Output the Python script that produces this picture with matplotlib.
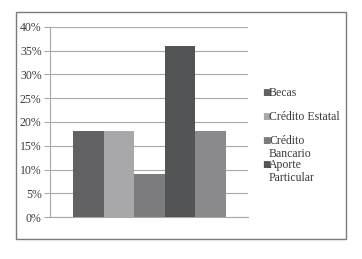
import matplotlib
matplotlib.use("Agg")
import matplotlib.pyplot as plt
from matplotlib.patches import Rectangle

plt.rcParams['font.family'] = ['Liberation Serif', 'DejaVu Serif']

series = ["Becas", "Crédito Estatal", "Crédito\nBancario", "Aporte\nParticular", ""]
values = [18, 18, 9, 36, 18]
colors = ["#626264", "#a8a8aa", "#7c7c7e", "#525456", "#8a8a8c"]
yticks = [0, 5, 10, 15, 20, 25, 30, 35, 40]

fig = plt.figure(figsize=(3.62, 2.59), dpi=100)
fig.patches.append(Rectangle((0.044, 0.077), 0.912, 0.877, transform=fig.transFigure,
                             fill=False, edgecolor="#7a7a7a", linewidth=1.0))

ax = fig.add_axes([0.138, 0.162, 0.547, 0.734])
x = list(range(len(values)))
ax.bar(x, values, width=1.0, color=colors, zorder=3)
ax.set_xlim(-1.25, 5.22)
ax.set_ylim(0, 40)
ax.set_yticks(yticks)
ax.set_yticklabels([f"{t}%" for t in yticks], fontsize=8.5, color="#3a3a3a")
ax.set_xticks([])
ax.yaxis.grid(True, color="#a8a8a8", linewidth=0.8, zorder=0)
for s in ["top", "right"]:
    ax.spines[s].set_visible(False)
ax.spines["left"].set_color("#a8a8a8")
ax.spines["bottom"].set_color("#a8a8a8")
ax.spines["left"].set_linewidth(0.8)
ax.spines["bottom"].set_linewidth(0.8)
ax.tick_params(axis="y", length=4, color="#a8a8a8", width=0.8, pad=2)

# legend (first four series)
ys = [93, 117, 141, 165]
for lab, c, yp in zip(series[:4], colors[:4], ys):
    fig.text(262 / 362, 1 - yp / 259, "■", color=c, fontsize=6.5, va="center",
             family="DejaVu Sans")
    lines = lab.split("\n")
    for k, ln in enumerate(lines):
        fig.text(269 / 362, 1 - (yp + 13 * k) / 259, ln, fontsize=8.5,
                 color="#3a3a3a", va="center")

fig.savefig("out.png", dpi=100)
